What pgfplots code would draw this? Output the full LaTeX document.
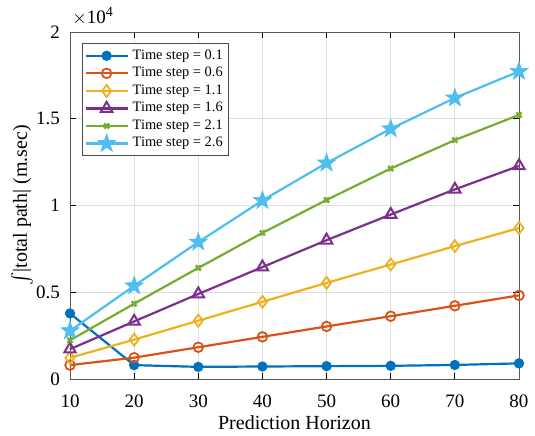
\documentclass[border=0pt]{standalone}
\usepackage{pgfplots}
\pgfplotsset{compat=1.18}
\usepackage{fontspec}
\setmainfont{Liberation Serif}
\usetikzlibrary{plotmarks}

\definecolor{c1}{RGB}{0,114,189}
\definecolor{c2}{RGB}{217,83,25}
\definecolor{c3}{RGB}{237,177,32}
\definecolor{c4}{RGB}{126,47,142}
\definecolor{c5}{RGB}{119,172,48}
\definecolor{c6}{RGB}{77,190,238}

% filled five-pointed star
\pgfdeclareplotmark{pentastar}{%
  \pgfpathmoveto{\pgfpointpolar{90}{\pgfplotmarksize}}
  \pgfpathlineto{\pgfpointpolar{126}{0.4\pgfplotmarksize}}
  \pgfpathlineto{\pgfpointpolar{162}{\pgfplotmarksize}}
  \pgfpathlineto{\pgfpointpolar{198}{0.4\pgfplotmarksize}}
  \pgfpathlineto{\pgfpointpolar{234}{\pgfplotmarksize}}
  \pgfpathlineto{\pgfpointpolar{270}{0.4\pgfplotmarksize}}
  \pgfpathlineto{\pgfpointpolar{306}{\pgfplotmarksize}}
  \pgfpathlineto{\pgfpointpolar{342}{0.4\pgfplotmarksize}}
  \pgfpathlineto{\pgfpointpolar{18}{\pgfplotmarksize}}
  \pgfpathlineto{\pgfpointpolar{54}{0.4\pgfplotmarksize}}
  \pgfpathclose
  \pgfusepathqfillstroke}

\begin{document}
\begin{tikzpicture}
\begin{axis}[
    name=main,
    scale only axis,
    width=224.5pt, height=173.5pt,
    xmin=10, xmax=80, ymin=0, ymax=20000,
    xtick={10,20,...,80},
    xticklabels={10,20,30,40,50,60,70,80},
    ytick={0,5000,10000,15000,20000},
    yticklabels={0,0.5,1,1.5,2},
    scaled y ticks=false,
    tick label style={font=\fontsize{9.5}{10}\selectfont},
    yticklabel style={xshift=-1.5pt},
    xticklabel style={yshift=-4.5pt},
    xlabel={Prediction Horizon},
    ylabel={$\int$|total path| (m.sec)},
    label style={font=\fontsize{10}{12}\selectfont},
    every axis x label/.style={at={(axis description cs:0.5,0)}, anchor=center, yshift=-22pt},
    every axis y label/.style={at={(axis description cs:0,0.5)}, anchor=center, rotate=90, yshift=24pt, inner sep=1pt},
    grid=major,
    grid style={gray!25, line width=0.4pt},
    axis line style={gray!70!black, line width=0.4pt},
    tick align=inside,
    major tick length=3pt,
    tick style={black, line width=0.4pt},
    clip=false,
    legend style={at={(0.027,0.968)}, anchor=north west, font=\fontsize{7.2}{8.5}\selectfont,
        draw=gray!60!black, line width=0.4pt, inner sep=1pt, row sep=-1.5pt},
    legend cell align=left,
    legend image code/.code={\draw[#1] (0pt,0pt) -- (10.5pt,0pt) -- (21pt,0pt); \draw[#1, only marks] plot coordinates {(10.5pt,0pt)};},
    every axis plot/.append style={line width=1.1pt},
]
\addplot[c1, mark=*, mark size=2pt] coordinates {
(10,3780) (20,800) (30,700) (40,720) (50,740) (60,760) (70,810) (80,900)};
\addlegendentry{Time step = 0.1}
\addplot[c2, mark=o, mark size=2.4pt, mark options={line width=0.9pt}] coordinates {
(10,800) (20,1230) (30,1830) (40,2430) (50,3030) (60,3620) (70,4220) (80,4820)};
\addlegendentry{Time step = 0.6}
\addplot[c3, mark=diamond, mark size=3pt, mark options={line width=0.9pt}] coordinates {
(10,1220) (20,2270) (30,3360) (40,4450) (50,5540) (60,6600) (70,7660) (80,8700)};
\addlegendentry{Time step = 1.1}
\addplot[c4, mark=triangle, mark size=3.3pt, mark options={line width=1pt}] coordinates {
(10,1720) (20,3320) (30,4900) (40,6450) (50,8000) (60,9480) (70,10930) (80,12280)};
\addlegendentry{Time step = 1.6}
\addplot[c5, mark=x, mark size=1.8pt, mark options={line width=1.2pt}] coordinates {
(10,2230) (20,4340) (30,6400) (40,8420) (50,10320) (60,12130) (70,13770) (80,15220)};
\addlegendentry{Time step = 2.1}
\addplot[c6, mark=pentastar, mark size=4.8pt, mark options={line width=0.3pt}] coordinates {
(10,2780) (20,5370) (30,7890) (40,10290) (50,12450) (60,14420) (70,16200) (80,17730)};
\addlegendentry{Time step = 2.6}
\node[anchor=south west, inner sep=0pt, font=\fontsize{9.5}{10}\selectfont] at (rel axis cs:0,1) [yshift=3pt, xshift=1pt] {$\times$10\raisebox{0.85ex}{\fontsize{7}{8}\selectfont 4}};
\end{axis}
\pgfresetboundingbox
\path ([xshift=-35pt,yshift=-28pt]main.south west) rectangle ([xshift=8pt,yshift=16pt]main.north east);
\end{tikzpicture}
\end{document}
